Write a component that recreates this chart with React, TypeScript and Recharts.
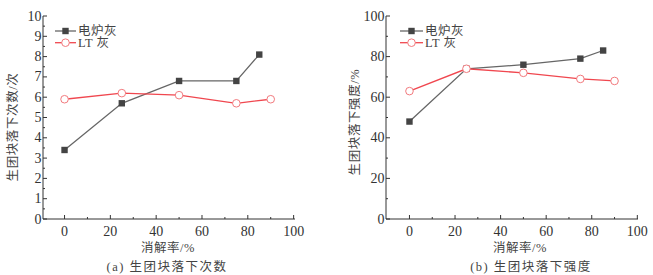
import { LineChart, Line, XAxis, YAxis } from 'recharts';

const furnaceRate = [0, 25, 50, 75, 85];
const ltRate = [0, 25, 50, 75, 90];
const furnaceDrops = [3.4, 5.7, 6.8, 6.8, 8.1];
const ltDrops = [5.9, 6.2, 6.1, 5.7, 5.9];
const furnaceStrength = [48, 74, 76, 79, 83];
const ltStrength = [63, 74, 72, 69, 68];

const xMajor = [0, 20, 40, 60, 80, 100];
const xMinor = [10, 30, 50, 70, 90];
const dropsMajor = [0, 1, 2, 3, 4, 5, 6, 7, 8, 9, 10];
const dropsMinor = dropsMajor.slice(0, -1).map(v => v + 0.5);
const strengthMajor = [0, 20, 40, 60, 80, 100];
const strengthMinor = [10, 30, 50, 70, 90];

const seriesNames = ['电炉灰', 'LT 灰'];

const FONT = "'Liberation Serif', 'Noto Sans CJK SC', serif";
const AXIS = '#333';
const GRAY_LINE = '#666';
const GRAY_MARK = '#444';
const RED_LINE = '#f0474f';
const RED_MARK = '#f27a7e';

const toPoints = (xs: number[], ys: number[]) => xs.map((x, i) => ({ x, y: ys[i] }));

const makeXTick = (majors: number[]) => (props: any) => {
  const { x, y, payload } = props;
  const major = majors.includes(payload.value);
  return (
    <g>
      <line x1={x} x2={x} y1={y} y2={y - (major ? 4 : 2)} stroke={AXIS} />
      {major && (
        <text x={x} y={y + 12} textAnchor="middle" dominantBaseline="central"
          fontFamily={FONT} fontSize={14} fill={AXIS}>
          {payload.value}
        </text>
      )}
    </g>
  );
};

const makeYTick = (majors: number[]) => (props: any) => {
  const { x, y, payload } = props;
  const major = majors.includes(payload.value);
  return (
    <g>
      <line x1={x} x2={x + (major ? 4 : 2)} y1={y} y2={y} stroke={AXIS} />
      {major && (
        <text x={x - 1.5} y={y} textAnchor="end" dominantBaseline="central"
          fontFamily={FONT} fontSize={14} fill={AXIS}>
          {payload.value}
        </text>
      )}
    </g>
  );
};

const Square = (props: any) => {
  const { cx, cy } = props;
  if (cx == null || cy == null) return null;
  return <rect x={cx - 3.2} y={cy - 3.2} width={6.4} height={6.4} fill={GRAY_MARK} />;
};

const Ring = (props: any) => {
  const { cx, cy } = props;
  if (cx == null || cy == null) return null;
  return <circle cx={cx} cy={cy} r={3.8} fill="#fff" stroke={RED_MARK} strokeWidth={1} />;
};

const textStyle = { fontFamily: FONT, fontSize: 12.5, fill: '#444' };

const LegendBox = ({ x, lineLen }: { x: number; lineLen: number }) => (
  <g>
    <line x1={x} x2={x + lineLen} y1={31} y2={31} stroke={GRAY_LINE} strokeWidth={1.3} />
    <rect x={x + lineLen / 2 - 3.2} y={27.8} width={6.4} height={6.4} fill={GRAY_MARK} />
    <text {...textStyle} x={x + lineLen + 2} y={31} dominantBaseline="central" letterSpacing={0.5}>
      {seriesNames[0]}
    </text>
    <line x1={x} x2={x + lineLen} y1={42.7} y2={42.7} stroke={RED_LINE} strokeWidth={1.3} />
    <circle cx={x + lineLen / 2} cy={42.7} r={3.8} fill="#fff" stroke={RED_MARK} />
    <text {...textStyle} x={x + lineLen + 2} y={42.7} dominantBaseline="central" letterSpacing={0.5}>
      {seriesNames[1]}
    </text>
  </g>
);

type PanelProps = {
  left: number;
  plotLeft: number;
  xDomain: [number, number];
  yDomain: [number, number];
  yMajor: number[];
  yMinor: number[];
  furnace: number[];
  lt: number[];
};

const Panel = ({ left, plotLeft, xDomain, yDomain, yMajor, yMinor, furnace, lt }: PanelProps) => (
  <div style={{ position: 'absolute', left, top: 0 }}>
    <LineChart width={330} height={275} margin={{ top: 16, right: 330 - plotLeft - 252, bottom: 36, left: 0 }}>
      <XAxis dataKey="x" type="number" domain={xDomain} allowDataOverflow
        ticks={[...xMajor, ...xMinor].sort((a, b) => a - b)} interval={0}
        tick={makeXTick(xMajor)} tickLine={false} tickSize={0} tickMargin={0}
        height={20} axisLine={{ stroke: AXIS }} />
      <XAxis xAxisId="top" orientation="top" type="number" domain={xDomain} allowDataOverflow
        tick={false} tickLine={false} height={0} axisLine={{ stroke: AXIS }} />
      <YAxis dataKey="y" type="number" domain={yDomain} allowDataOverflow
        ticks={[...yMajor, ...yMinor].sort((a, b) => a - b)} interval={0}
        tick={makeYTick(yMajor)} tickLine={false} tickSize={0} tickMargin={0}
        width={plotLeft} axisLine={{ stroke: AXIS }} />
      <YAxis yAxisId="r" orientation="right" type="number" domain={yDomain}
        tick={false} tickLine={false} width={0} axisLine={{ stroke: AXIS }} />
      <Line data={toPoints(furnaceRate, furnace)} dataKey="y" name={seriesNames[0]}
        stroke={GRAY_LINE} strokeWidth={1.3} dot={<Square />} isAnimationActive={false} />
      <Line data={toPoints(ltRate, lt)} dataKey="y" name={seriesNames[1]}
        stroke={RED_LINE} strokeWidth={1.3} dot={<Ring />} isAnimationActive={false} />
    </LineChart>
  </div>
);

export default function App() {
  return (
    <div style={{ position: 'absolute', left: 0, top: 0, width: 653, height: 275, background: '#fff' }}>
      <Panel left={0} plotLeft={43} xDomain={[-9.4, 100.6]} yDomain={[0, 10]}
        yMajor={dropsMajor} yMinor={dropsMinor} furnace={furnaceDrops} lt={ltDrops} />
      <Panel left={323} plotLeft={63} xDomain={[-10.3, 100.3]} yDomain={[0, 100]}
        yMajor={strengthMajor} yMinor={strengthMinor} furnace={furnaceStrength} lt={ltStrength} />
      <svg width={653} height={275} style={{ position: 'absolute', left: 0, top: 0, pointerEvents: 'none' }}>
        <LegendBox x={55} lineLen={21} />
        <LegendBox x={400} lineLen={23} />
        <text {...textStyle} x={13} y={127} textAnchor="middle" dominantBaseline="central"
          letterSpacing={0.6} transform="rotate(-90 13 127)">生团块落下次数/次</text>
        <text {...textStyle} x={355} y={122} textAnchor="middle" dominantBaseline="central"
          letterSpacing={0.6} transform="rotate(-90 355 122)">生团块落下强度/%</text>
        <text {...textStyle} x={168} y={248} textAnchor="middle" dominantBaseline="central" letterSpacing={0.5}>消解率/%</text>
        <text {...textStyle} x={520} y={248} textAnchor="middle" dominantBaseline="central" letterSpacing={0.5}>消解率/%</text>
        <text {...textStyle} x={167} y={267} textAnchor="middle" dominantBaseline="central" letterSpacing={1.5}>(a) 生团块落下次数</text>
        <text {...textStyle} x={531} y={267} textAnchor="middle" dominantBaseline="central" letterSpacing={1.5}>(b) 生团块落下强度</text>
      </svg>
    </div>
  );
}
